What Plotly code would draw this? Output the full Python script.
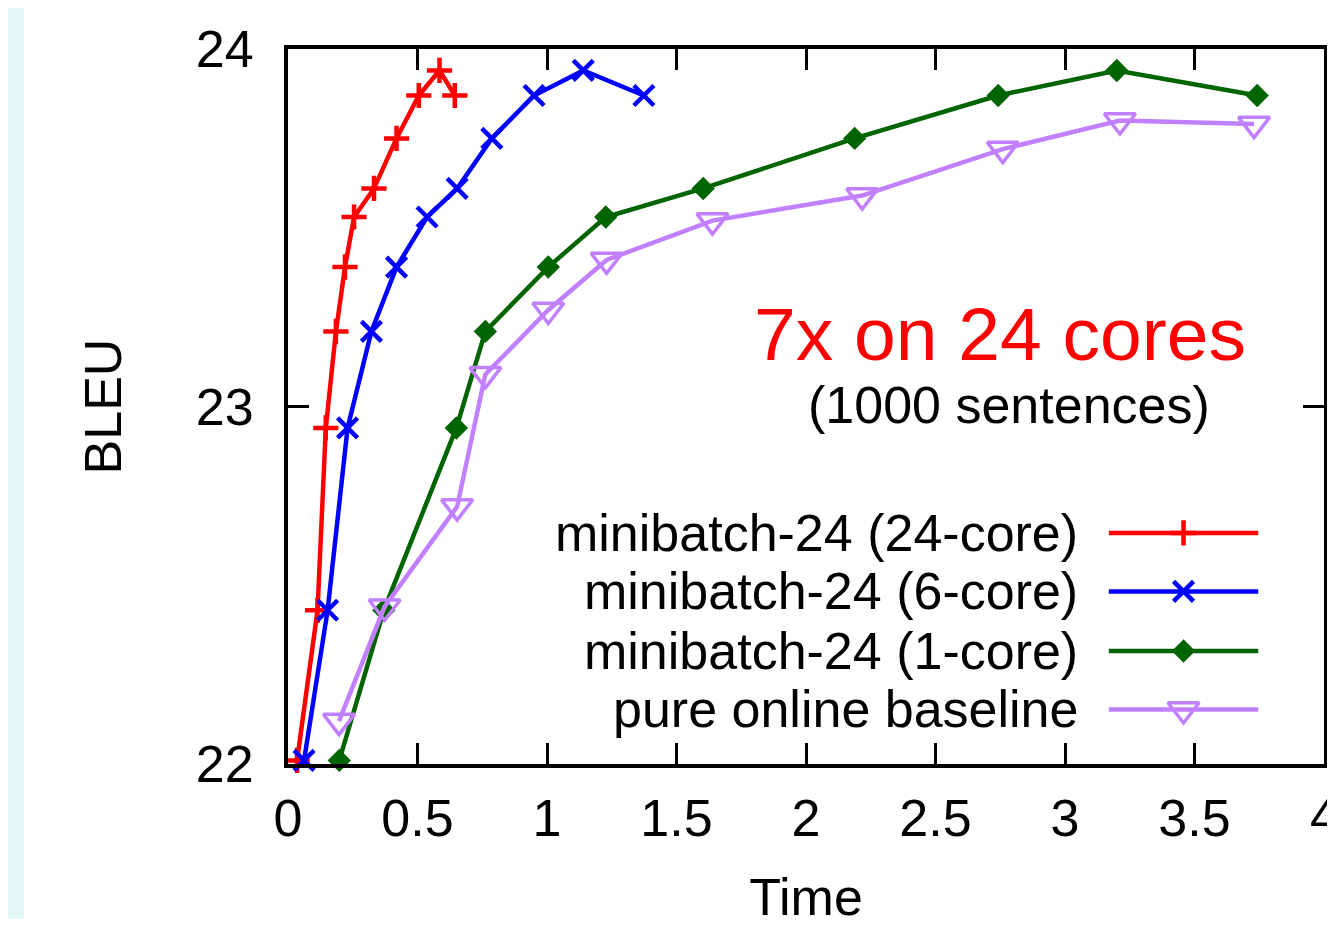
import plotly.graph_objects as go

# BLEU vs. time, one point per iteration
time_24core = [0.035, 0.114, 0.146, 0.185, 0.220, 0.255, 0.332, 0.419, 0.505, 0.585, 0.644]
bleu_24core = [22.01, 22.43, 22.94, 23.21, 23.39, 23.53, 23.61, 23.75, 23.87, 23.94, 23.87]

time_6core = [0.062, 0.153, 0.230, 0.322, 0.419, 0.537, 0.653, 0.787, 0.950, 1.140, 1.374]
bleu_6core = [22.01, 22.43, 22.94, 23.21, 23.39, 23.53, 23.61, 23.75, 23.87, 23.94, 23.87]

time_1core = [0.198, 0.370, 0.650, 0.762, 1.005, 1.227, 1.603, 2.188, 2.742, 3.200, 3.742]
bleu_1core = [22.01, 22.43, 22.94, 23.21, 23.39, 23.53, 23.61, 23.75, 23.87, 23.94, 23.87]

time_online = [0.197, 0.373, 0.653, 0.762, 1.005, 1.230, 1.639, 2.217, 2.760, 3.212, 3.730]
bleu_online = [22.12, 22.44, 22.72, 23.09, 23.27, 23.41, 23.52, 23.59, 23.72, 23.80, 23.79]

x_ticks = [0, 0.5, 1, 1.5, 2, 2.5, 3, 3.5, 4]
x_tick_labels = ['0', '0.5', '1', '1.5', '2', '2.5', '3', '3.5', '4']
y_ticks = [22, 23, 24]

FONT = 'Liberation Sans, Arial, sans-serif'
OFF = 8  # page body margin in front of the plot div
W, H = 1335 - OFF, 926 - OFF
L, R, T, B = 288 - OFF, 7, 49 - OFF, 156


def px(x):  # page pixel -> paper x
    return (x - OFF - L) / (W - L - R)


def py(y):  # page pixel -> paper y
    return (H - B - (y - OFF)) / (H - T - B)


series = [
    ('minibatch-24 (24-core)', time_24core, bleu_24core, '#ff0000',
     dict(symbol='cross-thin', size=18, line=dict(color='#ff0000', width=4.5))),
    ('minibatch-24 (6-core)', time_6core, bleu_6core, '#0000ff',
     dict(symbol='x-thin', size=20, line=dict(color='#0000ff', width=4.5))),
    ('minibatch-24 (1-core)', time_1core, bleu_1core, '#006400',
     dict(symbol='diamond', size=18, color='#006400', line=dict(width=0))),
    ('pure online baseline', time_online, bleu_online, '#c080ff',
     dict(symbol='triangle-down-open', size=27, color='#c080ff',
          line=dict(color='#c080ff', width=3.5))),
]

fig = go.Figure()

for name, xs, ys, col, mk in series:
    fig.add_trace(go.Scatter(x=xs, y=ys, mode='lines+markers', name=name,
                             line=dict(color=col, width=4.5), marker=mk,
                             cliponaxis=False, showlegend=False))

# hand-made legend, gnuplot style (text left, sample right)
legend_rows = [537, 596, 656, 715]
for (name, xs, ys, col, mk), row in zip(series, legend_rows):
    fig.add_trace(go.Scatter(x=[px(1112), px(1262)], y=[py(row)] * 2,
                             xaxis='x2', yaxis='y2', mode='lines',
                             line=dict(color=col, width=4.5), cliponaxis=False,
                             showlegend=False, hoverinfo='skip'))
    fig.add_trace(go.Scatter(x=[px(1187)], y=[py(row)], xaxis='x2', yaxis='y2',
                             mode='markers', marker=mk, cliponaxis=False,
                             showlegend=False, hoverinfo='skip'))
    fig.add_annotation(x=px(1083), y=py(row), xref='paper', yref='paper',
                       text=name, showarrow=False, xanchor='right', yanchor='middle',
                       font=dict(size=52, color='black', family=FONT))

fig.add_annotation(x=px(1003), y=py(336), xref='paper', yref='paper',
                   text='7x on 24 cores', showarrow=False,
                   xanchor='center', yanchor='middle',
                   font=dict(size=75, color='#ff0000', family=FONT))
fig.add_annotation(x=px(1012), y=py(408), xref='paper', yref='paper',
                   text='(1000 sentences)', showarrow=False,
                   xanchor='center', yanchor='middle',
                   font=dict(size=52, color='black', family=FONT))

# last x tick label sits half outside the page; plotly hides it, so place it by hand
fig.add_annotation(x=1, y=py(822), xref='paper', yref='paper',
                   text=x_tick_labels[-1], showarrow=False,
                   xanchor='center', yanchor='middle',
                   font=dict(size=52, color='black', family=FONT))

# pale strip at the left edge of the page
fig.add_shape(type='rect', xref='paper', yref='paper',
              x0=px(3), x1=px(23), y0=py(926), y1=py(0),
              fillcolor='#e2f5f7', line=dict(width=0), layer='below')

axis_common = dict(showline=True, mirror='allticks', linecolor='black', linewidth=4,
                   ticks='inside', ticklen=21, tickwidth=3, tickcolor='black',
                   showgrid=False, zeroline=False,
                   tickfont=dict(size=52, color='black', family=FONT))

fig.update_layout(
    width=W, height=H,
    margin=dict(l=L, r=R, t=T, b=B),
    paper_bgcolor='white', plot_bgcolor='white',
    showlegend=False,
    xaxis=dict(range=[0, 4], tickvals=x_ticks, ticktext=x_tick_labels[:-1] + [''],
               ticklabelstandoff=6,
               title=dict(text='Time', standoff=35,
                          font=dict(size=52, color='black', family=FONT)),
               **axis_common),
    yaxis=dict(range=[22, 24], tickvals=y_ticks, ticklabelstandoff=20,
               title=dict(text='BLEU', standoff=59,
                          font=dict(size=52, color='black', family=FONT)),
               **axis_common),
    xaxis2=dict(range=[0, 1], overlaying='x', visible=False, fixedrange=True),
    yaxis2=dict(range=[0, 1], overlaying='y', visible=False, fixedrange=True),
)

fig.write_html('out.html')
